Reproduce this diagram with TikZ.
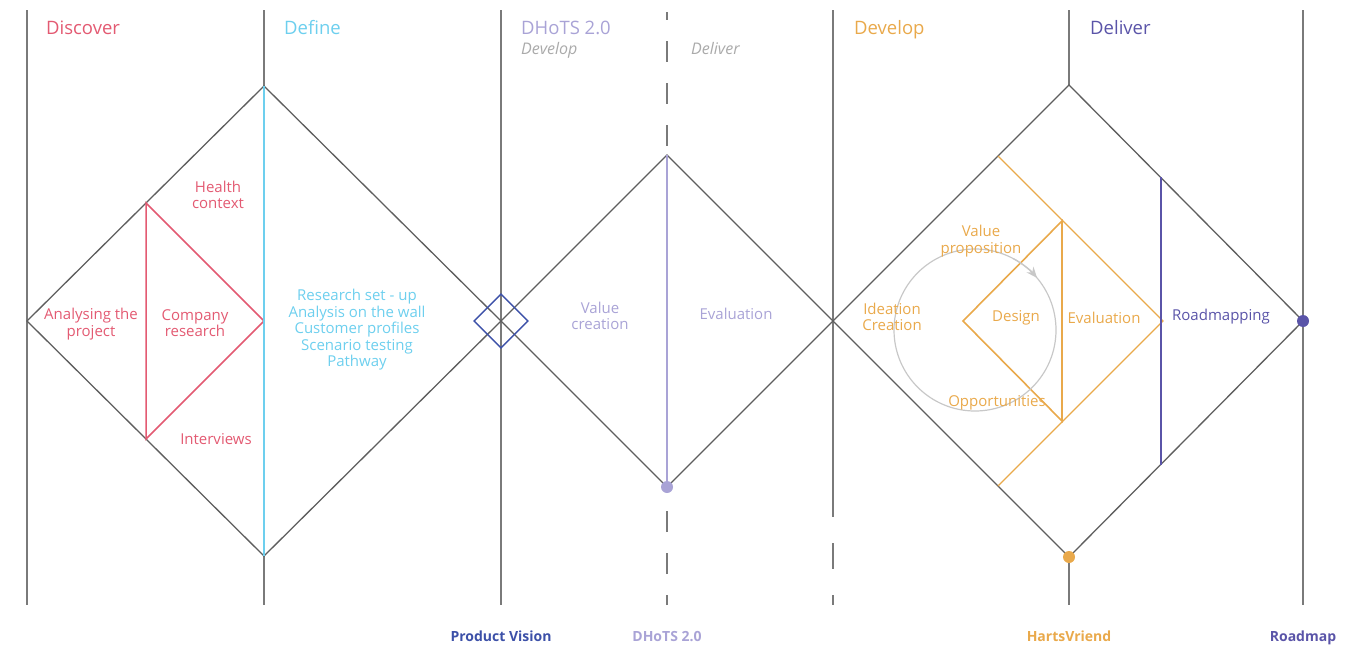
\documentclass[tikz,border=0pt]{standalone}
\usepackage{fontspec}
\setmainfont{Open Sans}
\usetikzlibrary{arrows.meta}

\definecolor{rulegray}{HTML}{7A7A7A}
\definecolor{edgegray}{HTML}{5E5E5E}
\definecolor{subgray}{HTML}{AAAAAA}
\definecolor{loopgray}{HTML}{C8C8C8}
\definecolor{discred}{HTML}{E35A72}
\definecolor{defcyan}{HTML}{6DCFEE}
\definecolor{dhlilac}{HTML}{A9A3D6}
\definecolor{devorange}{HTML}{E9A94B}
\definecolor{delpurple}{HTML}{5A54A8}
\definecolor{pvblue}{HTML}{3C50A8}

\begin{document}
\begin{tikzpicture}[x=1pt,y=-1pt,
  rule/.style={draw=rulegray, line width=1.2},
  edge/.style={draw=edgegray, line width=1.3, line join=miter},
  head/.style={font=\fontsize{18.5}{20}\selectfont, anchor=base west, inner sep=0},
  subhead/.style={font=\itshape\fontsize{16}{18}\selectfont, anchor=base west, inner sep=0, text=subgray},
  lbl/.style={font=\fontsize{15}{16.5}\selectfont, align=center, inner sep=0},
  foot/.style={font=\bfseries\fontsize{14}{16}\selectfont, inner sep=0, anchor=base},
  milestone/.style={circle, inner sep=0, minimum size=12}]
\useasboundingbox (0,0) rectangle (1367,645);

% diamond vertices
\coordinate (A) at (27,321);
\coordinate (B) at (264,86);
\coordinate (C) at (501,321);
\coordinate (D) at (264,556);
\coordinate (Mt) at (667,155);
\coordinate (Mr) at (833,321);
\coordinate (Mb) at (667,487);
\coordinate (Rt) at (1069,85);
\coordinate (Rr) at (1303,321);
\coordinate (Rb) at (1069,557);

% column rules
\draw[rule] (27,10) coordinate (r1t) -- (27,605) coordinate (r1b);
\draw[rule] (264,10) coordinate (r2t) -- (B);
\draw[rule] (D) -- (264,605) coordinate (r2b);
\draw[rule] (501,10) coordinate (r3t) -- (C) -- (501,605) coordinate (r3b);
\draw[rule, dash pattern=on 21 off 21, dash phase=13] (667,12) coordinate (r4t) -- (Mt);
\draw[rule, dash pattern=on 21 off 21, dash phase=11] (667,605) coordinate (r4b) -- (Mb);
\draw[rule] (833,10) coordinate (r5t) -- (Mr) -- (833,517) coordinate (r5m);
\draw[rule] (833,543) coordinate (r5a) -- (833,569) coordinate (r5c);
\draw[rule] (833,595) coordinate (r5d) -- (833,605) coordinate (r5b);
\draw[rule] (1069,10) coordinate (r6t) -- (Rt);
\draw[rule] (Rb) -- (1069,605) coordinate (r6b);
\draw[rule] (1303,10) coordinate (r7t) -- (1303,605) coordinate (r7b);

% the three diamonds
\draw[edge] (A) -- (B) -- (C) -- (D) -- cycle;
\draw[edge] (C) -- (Mt) -- (Mr) -- (Mb) -- cycle;
\draw[edge] (Mr) -- (Rt) -- (Rr) -- (Rb) -- cycle;

% Discover / Define
\coordinate (T1) at (146,203);
\coordinate (T2) at (146,439);
\coordinate (T3) at (264,321);
\draw[discred, line width=1.5, line join=miter] (T1) -- (T3) -- (T2) -- cycle;
\draw[defcyan, line width=2] (B) -- (D);

% Product Vision marker
\node[draw=pvblue, line width=1.5, minimum size=38, inner sep=0, rotate=45] (pv) at (C) {};

% DHoTS 2.0
\draw[dhlilac, line width=2] (Mt) -- (Mb);

% Develop
\coordinate (O1) at (998,156);
\coordinate (O2) at (1163,321);
\coordinate (O3) at (998,486);
\draw[devorange, line width=1.1, line join=miter] (O1) -- (O2) -- (O3);
\coordinate (I1) at (963,321);
\coordinate (I2) at (1062,221);
\coordinate (I3) at (1062,421);
\draw[devorange, line width=1.6, line join=miter] (I2) -- (I1) -- (I3) -- cycle;
% iteration loop, running clockwise, arrowhead on the upper right
\node[circle, draw=loopgray, line width=1.2, minimum size=162, inner sep=0] (loop) at (975,330) {};
\draw[loopgray, line width=1.2, -{Stealth[length=11, width=9]}]
  ([shift={(-62:81)}]loop.center) arc[start angle=-62, end angle=-40, radius=81];

% Deliver
\draw[delpurple, line width=2] (1161,177) coordinate (D1) -- (1161,465) coordinate (D2);

% milestones
\node[milestone, fill=dhlilac] (m1) at (Mb) {};
\node[milestone, fill=devorange] (m2) at (Rb) {};
\node[milestone, fill=delpurple] (m3) at (Rr) {};

% phase headings
\node[head, text=discred] (h1) at (46,34) {Discover};
\node[head, text=defcyan] (h2) at (284,34) {Define};
\node[head, text=dhlilac] (h3) at (521,34) {DHoTS 2.0};
\node[subhead] (h3a) at (521,54) {Develop};
\node[subhead] (h3b) at (691,54) {Deliver};
\node[head, text=devorange] (h4) at (854,34) {Develop};
\node[head, text=delpurple] (h5) at (1090,34) {Deliver};

% step labels
\node[lbl, text=discred] (l1) at (218,195) {Health\\context};
\node[lbl, text=discred] (l2) at (91,324) {Analysing the\\project};
\node[lbl, text=discred] (l3) at (195,323) {Company\\research};
\node[lbl, text=discred] (l4) at (216,439) {Interviews};
\node[lbl, text=defcyan] (l5) at (357,330) {Research set - up\\Analysis on the wall\\Customer profiles\\Scenario testing\\Pathway};
\node[lbl, text=dhlilac] (l6) at (600,316) {Value\\creation};
\node[lbl, text=dhlilac] (l7) at (736,314) {Evaluation};
\node[lbl, text=devorange] (l8) at (892,317) {Ideation\\Creation};
\node[lbl, text=devorange] (l9) at (981,241) {Value\\proposition};
\node[lbl, text=devorange] (l10) at (1016,318) {Design};
\node[lbl, text=devorange] (l11) at (1104,318) {Evaluation};
\node[lbl, text=devorange] (l12) at (997,403) {Opportunities};
\node[lbl, text=delpurple] (l13) at (1221,317) {Roadmapping};

% deliverables
\node[foot, text=pvblue] (f1) at (501,641) {Product Vision};
\node[foot, text=dhlilac] (f2) at (667,641) {DHoTS 2.0};
\node[foot, text=devorange] (f3) at (1069,641) {HartsVriend};
\node[foot, text=delpurple] (f4) at (1303,641) {Roadmap};
\end{tikzpicture}
\end{document}
